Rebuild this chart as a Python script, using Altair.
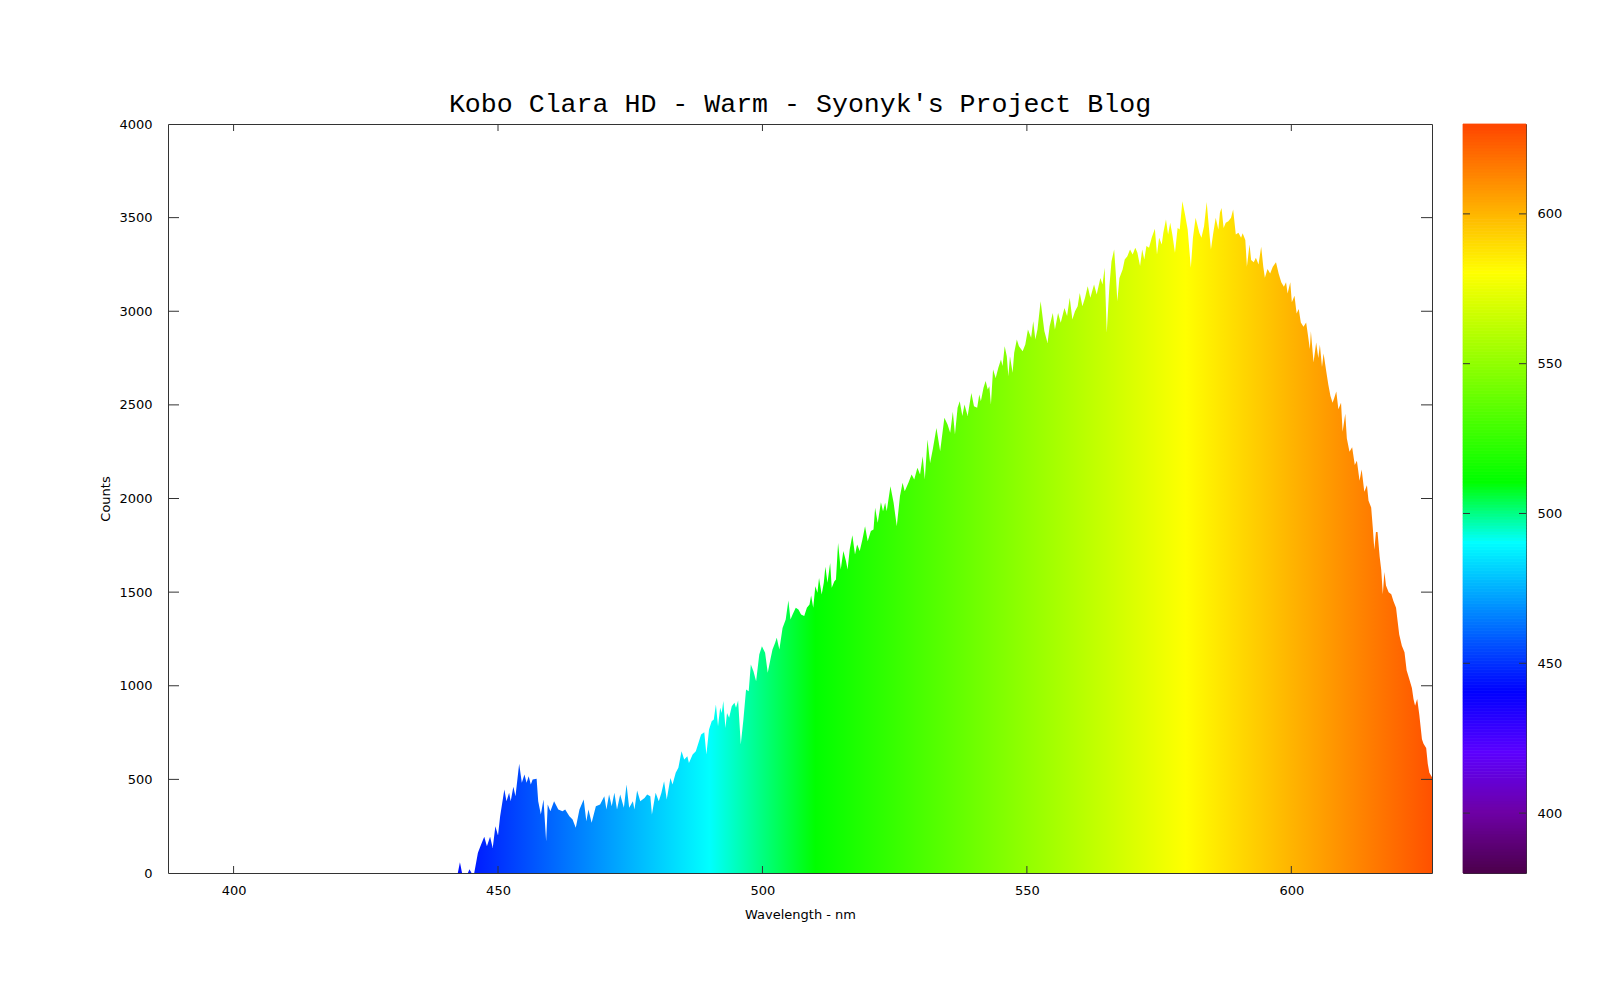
import altair as alt
import pandas as pd

# ---- spectrum (nm, counts) ----
wavelength = [
    387.6, 442.4, 442.8, 443.2, 444.3, 444.6, 445.0, 445.5, 446.2, 446.8, 447.4, 447.9, 448.5, 449.0,
    449.5, 450.0, 450.4, 451.2, 451.6, 452.1, 452.4, 452.9, 453.3, 454.0, 454.5, 455.0, 455.4, 455.8,
    456.2, 456.55, 457.3, 457.6, 458.1, 458.6, 459.1, 459.4, 459.9, 460.6, 461.4, 462.2, 462.7, 463.5,
    464.1, 464.7, 465.4, 466.2, 466.7, 467.1, 467.7, 468.5, 469.3, 470.1, 470.5, 471.0, 471.5, 472.0,
    472.5, 473.1, 473.8, 474.3, 474.8, 475.5, 475.8, 476.3, 476.9, 477.7, 478.2, 478.8, 479.1, 479.8,
    480.4, 480.9, 481.4, 481.9, 482.6, 483.0, 483.6, 484.1, 484.7, 485.2, 485.8, 486.1, 486.8, 487.4,
    488.0, 488.4, 489.0, 489.4, 489.9, 490.4, 490.8, 491.2, 491.6, 492.0, 492.3, 492.6, 493.0, 493.3,
    493.7, 494.2, 494.7, 495.0, 495.4, 495.9, 496.4, 496.9, 497.4, 497.8, 498.3, 498.8, 499.4, 499.9,
    500.5, 501.0, 501.5, 501.9, 502.4, 502.7, 503.2, 503.8, 504.4, 504.9, 505.3, 505.7, 506.3, 506.8,
    507.3, 507.9, 508.4, 508.9, 509.2, 509.6, 510.0, 510.4, 510.7, 511.2, 511.6, 511.9, 512.3, 512.8,
    513.1, 513.6, 513.9, 514.3, 514.8, 515.3, 515.8, 516.1, 516.5, 517.0, 517.5, 517.9, 518.4, 518.9,
    519.4, 519.9, 520.5, 521.0, 521.3, 521.8, 522.4, 522.8, 523.2, 523.5, 524.2, 524.8, 525.4, 526.0,
    526.5, 526.9, 527.6, 528.2, 528.7, 529.3, 529.8, 530.3, 530.7, 531.2, 531.7, 532.2, 532.9, 533.6,
    534.4, 535.0, 535.5, 536.0, 536.4, 536.9, 537.3, 537.8, 538.2, 538.8, 539.5, 540.0, 540.6, 541.0,
    541.3, 541.8, 542.2, 542.6, 542.9, 543.2, 543.6, 544.1, 544.6, 545.1, 545.4, 545.8, 546.2, 546.5,
    546.8, 547.3, 547.6, 548.1, 548.5, 549.2, 549.7, 550.2, 550.8, 551.2, 551.6, 552.0, 552.6, 553.3,
    553.9, 554.3, 554.9, 555.3, 555.9, 556.4, 557.1, 557.6, 558.1, 558.6, 559.1, 559.6, 560.0, 560.5,
    561.0, 561.5, 562.0, 562.7, 563.2, 563.9, 564.3, 564.7, 565.1, 565.6, 566.0, 566.5, 566.8, 567.1,
    567.5, 568.1, 568.5, 569.0, 569.5, 570.0, 570.5, 570.9, 571.4, 571.8, 572.2, 572.6, 573.1, 573.6,
    574.2, 574.6, 575.0, 575.5, 575.8, 576.3, 576.7, 577.1, 577.5, 578.0, 578.5, 578.9, 579.4, 579.9,
    580.4, 581.0, 581.4, 581.9, 582.6, 583.0, 583.5, 584.0, 584.5, 584.8, 585.2, 585.7, 586.2, 586.5,
    586.8, 587.2, 587.6, 588.1, 588.6, 589.0, 589.5, 590.0, 590.5, 590.8, 591.3, 591.6, 592.1, 592.4,
    592.9, 593.3, 593.8, 594.3, 594.7, 595.0, 595.5, 596.0, 596.5, 597.1, 597.6, 598.1, 598.6, 599.0,
    599.3, 599.8, 600.1, 600.6, 601.0, 601.4, 601.8, 602.3, 602.8, 603.1, 603.5, 603.7, 604.2, 604.7,
    605.1, 605.4, 605.8, 606.1, 606.6, 607.0, 607.4, 607.8, 608.1, 608.5, 608.9, 609.4, 609.7, 610.2,
    610.5, 611.0, 611.5, 612.0, 612.4, 612.9, 613.3, 613.8, 614.3, 614.6, 615.1, 615.4, 615.7, 616.0,
    616.3, 616.7, 617.0, 617.3, 617.6, 617.9, 618.4, 618.9, 619.3, 619.8, 620.1, 620.4, 620.9, 621.4,
    621.8, 622.3, 622.8, 623.1, 623.4, 623.8, 624.2, 624.7, 625.0, 625.5, 625.8, 626.1, 626.6,
]
counts = [
    0, 0, 58, 0, 0, 20, 0, 0, 108, 152, 193, 143, 193, 134,
    250, 200, 303, 446, 383, 428, 383, 460, 410, 583, 482, 526, 482, 517,
    473, 500, 503, 383, 312, 392, 170, 366, 330, 383, 339, 330, 339, 303,
    286, 241, 339, 392, 277, 339, 268, 357, 366, 410, 339, 419, 357, 428,
    339, 419, 348, 473, 348, 383, 339, 441, 383, 401, 419, 410, 312, 428,
    383, 428, 490, 392, 508, 473, 535, 562, 650, 606, 624, 588, 633, 650,
    704, 740, 752, 633, 766, 811, 820, 900, 784, 882, 855, 918, 775, 855,
    829, 891, 909, 882, 921, 686, 820, 980, 971, 1113, 1078, 1024, 1167, 1211,
    1176, 1069, 1140, 1194, 1229, 1256, 1194, 1309, 1354, 1455, 1354, 1380, 1416, 1407,
    1380, 1372, 1416, 1434, 1482, 1416, 1532, 1496, 1576, 1487, 1550, 1635, 1550, 1656,
    1523, 1558, 1567, 1763, 1621, 1719, 1665, 1621, 1728, 1804, 1701, 1754, 1719, 1781,
    1852, 1772, 1826, 1834, 1950, 1870, 1980, 1932, 1977, 1932, 2066, 1977, 1852, 2012,
    2084, 2039, 2084, 2128, 2101, 2164, 2128, 2226, 2101, 2315, 2190, 2262, 2377, 2253,
    2431, 2395, 2351, 2463, 2342, 2484, 2520, 2440, 2502, 2440, 2564, 2493, 2484, 2555,
    2520, 2591, 2627, 2582, 2600, 2502, 2689, 2644, 2698, 2742, 2707, 2813, 2760, 2653,
    2760, 2671, 2778, 2849, 2813, 2787, 2822, 2903, 2858, 2947, 2849, 2903, 3054, 2894,
    2831, 2920, 2991, 2903, 2991, 2938, 3018, 2974, 3072, 2956, 3000, 3027, 3098, 3027,
    3072, 3134, 3072, 3143, 3089, 3178, 3143, 3232, 2885, 3134, 3267, 3330, 3205, 3054,
    3178, 3223, 3276, 3294, 3330, 3303, 3339, 3312, 3241, 3330, 3276, 3348, 3339, 3392,
    3440, 3303, 3392, 3356, 3419, 3490, 3410, 3472, 3410, 3312, 3445, 3437, 3588, 3517,
    3437, 3232, 3392, 3499, 3419, 3392, 3454, 3583, 3419, 3330, 3410, 3499, 3437, 3526,
    3552, 3445, 3472, 3481, 3499, 3543, 3410, 3419, 3393, 3417, 3381, 3238, 3357, 3274,
    3262, 3286, 3250, 3345, 3238, 3179, 3226, 3202, 3238, 3262, 3202, 3155, 3131, 3155,
    3095, 3155, 3048, 3083, 2988, 3012, 2940, 2917, 2940, 2881, 2798, 2893, 2726, 2833,
    2750, 2821, 2702, 2774, 2679, 2607, 2548, 2512, 2536, 2571, 2476, 2512, 2357, 2452,
    2321, 2250, 2274, 2179, 2202, 2095, 2155, 2036, 2071, 1988, 1952, 1845, 1726, 1821,
    1821, 1690, 1619, 1488, 1607, 1536, 1500, 1488, 1452, 1417, 1345, 1274, 1214, 1179,
    1083, 1036, 988, 929, 893, 929, 845, 714, 690, 667, 583, 536, 512,
]

x_ticks = [400, 450, 500, 550, 600]
y_ticks = [0, 500, 1000, 1500, 2000, 2500, 3000, 3500, 4000]
cb_ticks = [400, 450, 500, 550, 600]

# palette (wavelength -> colour) used for the fill and the colour bar
palette_nm = [380, 400, 420, 440, 465, 490, 510, 545, 580, 630]
palette_hex = ["#4d004d", "#6e00a6", "#5c00ff", "#0000ff", "#007fff",
               "#00ffff", "#00ff00", "#80ff00", "#ffff00", "#ff4400"]

TITLE = "Kobo Clara HD - Warm - Syonyk's Project Blog"
X_MIN, X_MAX = 387.6, 626.6
CB_MIN, CB_MAX = 380, 630
W, H = 1264, 749
CB_W = 63
INK = "#333333"
LABEL_FONT = "DejaVu Sans"

spec = pd.DataFrame({"wl": wavelength, "counts": counts})

span = CB_MAX - CB_MIN
grad = alt.Gradient(
    gradient="linear",
    stops=[alt.GradientStop(offset=(n - CB_MIN) / span, color=c) for n, c in zip(palette_nm, palette_hex)],
    x1=(CB_MIN - X_MIN) / (X_MAX - X_MIN),
    x2=(CB_MAX - X_MIN) / (X_MAX - X_MIN),
    y1=0,
    y2=0,
)

xscale = alt.Scale(domain=[X_MIN, X_MAX], nice=False, zero=False)
yscale = alt.Scale(domain=[0, 4000], nice=False)

x_axis = alt.Axis(values=x_ticks, ticks=False, domain=False, grid=False,
                  labelPadding=11, title="Wavelength - nm", titlePadding=11, format="d")
y_axis = alt.Axis(values=y_ticks, ticks=False, domain=False, grid=False,
                  labelPadding=16, title="Counts", titlePadding=6, format="d")

area = alt.Chart(spec).mark_area(fill=grad, opacity=1, interpolate="linear").encode(
    x=alt.X("wl:Q", scale=xscale, axis=x_axis, title="Wavelength - nm"),
    y=alt.Y("counts:Q", scale=yscale, axis=y_axis, title="Counts"),
)

xt = pd.DataFrame({"t": x_ticks})
yt = pd.DataFrame({"t": y_ticks[1:-1]})

bottom_ticks = alt.Chart(xt).mark_rule(color=INK, strokeWidth=1).encode(
    x=alt.X("t:Q", scale=xscale, axis=x_axis, title="Wavelength - nm"),
    y=alt.value(H), y2=alt.value(H - 7))
top_ticks = alt.Chart(xt).mark_rule(color=INK, strokeWidth=1).encode(
    x=alt.X("t:Q", scale=xscale, axis=x_axis, title="Wavelength - nm"),
    y=alt.value(0), y2=alt.value(7))
left_ticks = alt.Chart(yt).mark_rule(color=INK, strokeWidth=1).encode(
    y=alt.Y("t:Q", scale=yscale, axis=y_axis, title="Counts"),
    x=alt.value(0), x2=alt.value(11))
right_ticks = alt.Chart(yt).mark_rule(color=INK, strokeWidth=1).encode(
    y=alt.Y("t:Q", scale=yscale, axis=y_axis, title="Counts"),
    x=alt.value(W), x2=alt.value(W - 11))

main = alt.layer(area, bottom_ticks, top_ticks, left_ticks, right_ticks).properties(
    width=W, height=H,
    title=alt.TitleParams(TITLE, font="Liberation Mono", fontSize=26.6, fontWeight="normal",
                          anchor="middle", offset=0, color="black"),
)

# ---- colour bar ----
cb_w = list(range(CB_MIN, CB_MAX))
cb = pd.DataFrame({"w": cb_w, "w2": [w + 1 for w in cb_w]})
cscale = alt.Scale(domain=palette_nm, range=palette_hex, interpolate="rgb")
cbscale = alt.Scale(domain=[CB_MIN, CB_MAX], nice=False, zero=False)
cb_axis = alt.Axis(orient="right", values=cb_ticks, ticks=False, domain=False, grid=False,
                   labelPadding=11, title=None, format="d")

bar = alt.Chart(cb).mark_rect(strokeWidth=0.8).encode(
    y=alt.Y("w:Q", scale=cbscale, axis=cb_axis, title=None),
    y2="w2:Q",
    x=alt.value(0), x2=alt.value(CB_W),
    color=alt.Color("w:Q", scale=cscale, legend=None),
    stroke=alt.Stroke("w:Q", scale=cscale, legend=None),
)
cbt = pd.DataFrame({"t": cb_ticks})
cb_left = alt.Chart(cbt).mark_rule(color=INK, strokeWidth=1).encode(
    y=alt.Y("t:Q", scale=cbscale, axis=cb_axis, title=None), x=alt.value(0), x2=alt.value(7))
cb_right = alt.Chart(cbt).mark_rule(color=INK, strokeWidth=1).encode(
    y=alt.Y("t:Q", scale=cbscale, axis=cb_axis, title=None), x=alt.value(CB_W), x2=alt.value(CB_W - 7))

colorbar = alt.layer(bar, cb_left, cb_right).properties(width=CB_W, height=H)

chart = alt.hconcat(main, colorbar, spacing=29).properties(
    padding={"left": 91, "top": 82, "right": 10, "bottom": 10},
    background="white",
).configure_view(
    stroke=INK, strokeWidth=1
).configure_axis(
    labelFont=LABEL_FONT, labelFontSize=13, labelColor="black",
    titleFont=LABEL_FONT, titleFontSize=13, titleFontWeight="normal", titleColor="black",
)

chart.save("out.html", embed_options={"renderer": "svg", "actions": False})
